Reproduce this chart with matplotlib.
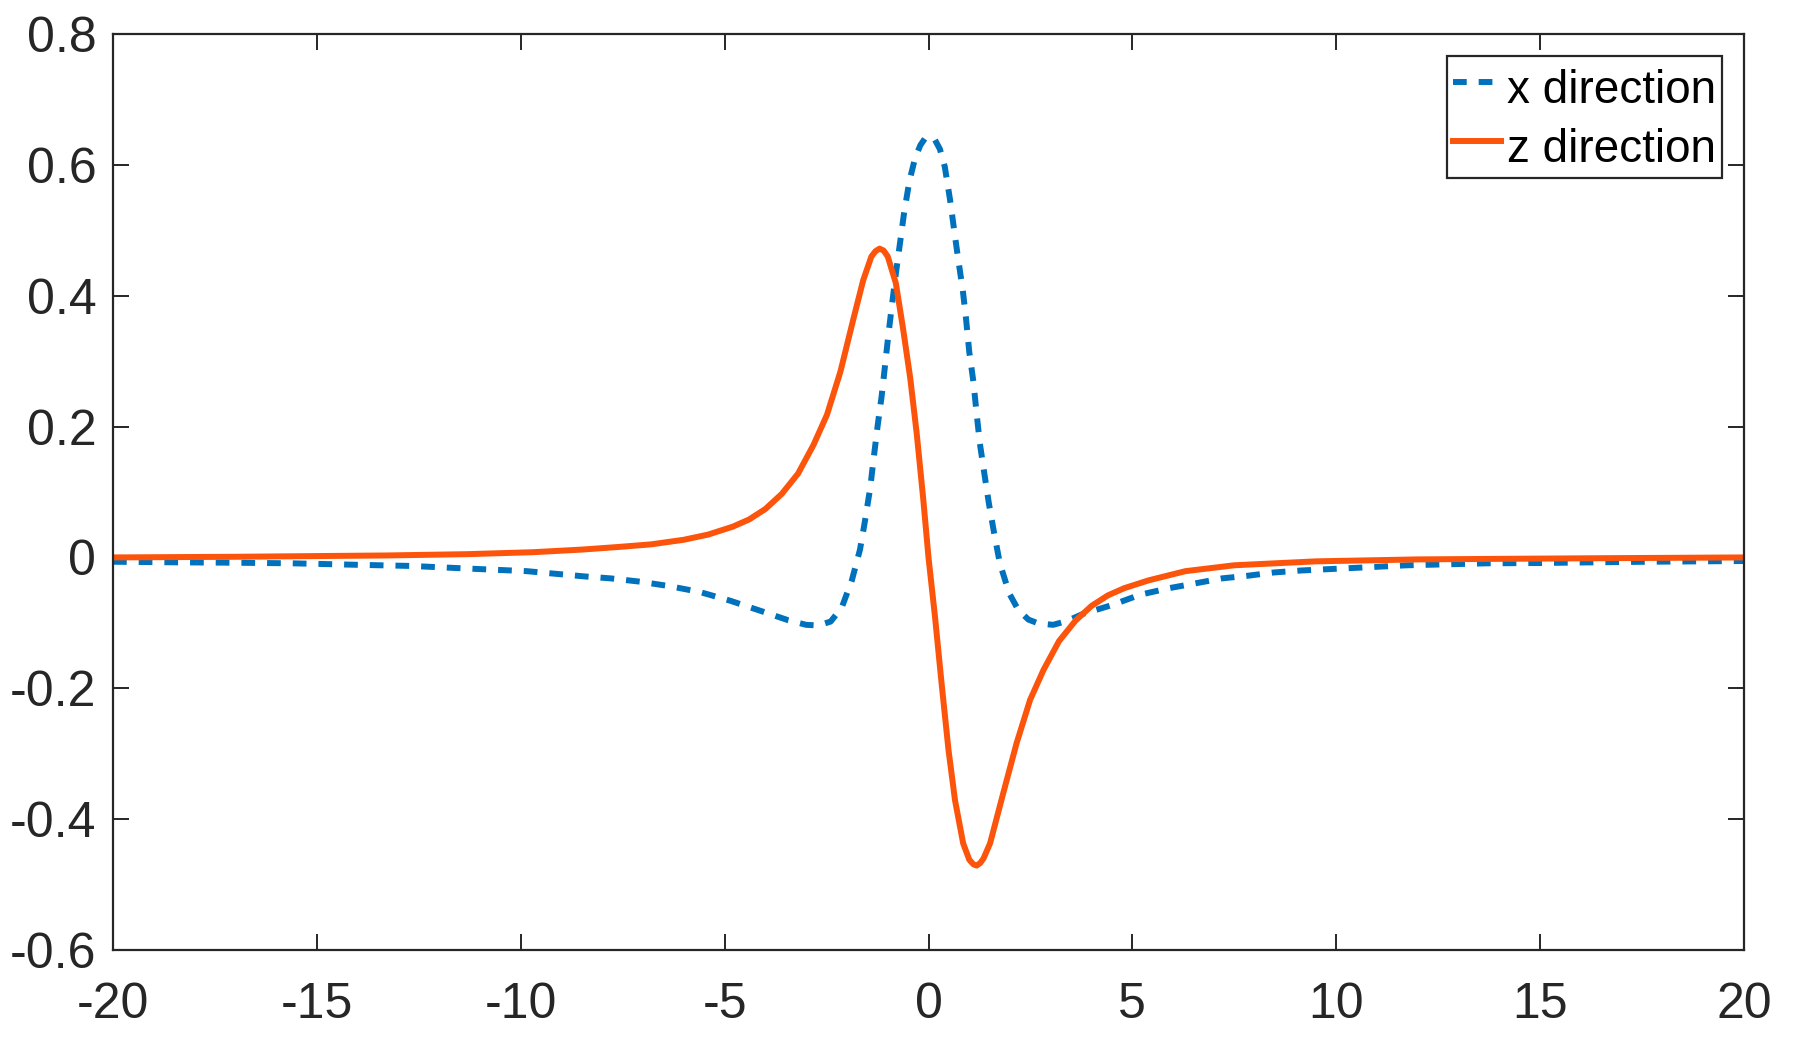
import matplotlib
matplotlib.use("Agg")
import matplotlib.pyplot as plt

plt.rcParams['font.family'] = ['Liberation Sans', 'DejaVu Sans']
plt.rcParams['axes.unicode_minus'] = False

# ---- data ----
x_dir_pos = [-20, -18.4, -17, -15.6, -14.2, -12.7, -11.3, -9.85, -8.44, -7.8, -7.08, -6.34,
             -5.6, -4.87, -4.15, -3.44, -3.0, -2.7, -2.4, -2.13, -1.88, -1.68, -1.56, -1.43,
             -1.34, -1.25, -1.15, -1.07, -0.99, -0.90, -0.80, -0.70, -0.60, -0.47, -0.33,
             -0.2, -0.08, 0.04, 0.16, 0.28, 0.40, 0.53, 0.63, 0.73, 0.84, 0.92, 1.00, 1.10,
             1.18, 1.26, 1.37, 1.48, 1.61, 1.75, 1.98, 2.2, 2.45, 2.7, 3.06, 3.4, 3.80, 4.49,
             5.19, 5.90, 6.6, 7.2, 7.83, 8.47, 9.13, 9.78, 10.44, 11.09, 11.74, 12.40, 13.05,
             13.71, 15.0, 16.3, 17.6, 20]
x_dir_val = [-0.0066, -0.0075, -0.0081, -0.009, -0.011, -0.013, -0.017, -0.021, -0.029,
             -0.032, -0.037, -0.044, -0.053, -0.066, -0.081, -0.096, -0.103, -0.104, -0.098,
             -0.077, -0.035, 0.012, 0.055, 0.106, 0.154, 0.200, 0.246, 0.291, 0.337, 0.384,
             0.434, 0.480, 0.526, 0.575, 0.610, 0.630, 0.641, 0.643, 0.638, 0.624, 0.597,
             0.546, 0.500, 0.455, 0.409, 0.365, 0.314, 0.269, 0.220, 0.174, 0.128, 0.083,
             0.037, -0.009, -0.055, -0.080, -0.095, -0.101, -0.103, -0.097, -0.086, -0.073,
             -0.057, -0.047, -0.039, -0.032, -0.028, -0.023, -0.020, -0.018, -0.016, -0.014,
             -0.012, -0.011, -0.010, -0.009, -0.0085, -0.0075, -0.0066, -0.0055]

z_dir_pos = [-20, -17, -13.3, -11.3, -9.7, -8.5, -7.6, -6.8, -6.0, -5.4, -4.8, -4.4, -4.0,
             -3.6, -3.2, -2.82, -2.49, -2.16, -1.84, -1.6, -1.4, -1.3, -1.2, -1.1, -1.0,
             -0.8, -0.62, -0.45, -0.29, -0.13, 0.0, 0.16, 0.32, 0.49, 0.65, 0.85, 1.0, 1.1,
             1.18, 1.27, 1.35, 1.51, 1.83, 2.16, 2.49, 2.82, 3.2, 3.6, 4.0, 4.4, 4.8, 5.4,
             6.3, 7.5, 9.5, 12, 14.4, 17, 20]
z_dir_val = [0.000, 0.001, 0.003, 0.005, 0.008, 0.012, 0.016, 0.020, 0.027, 0.035, 0.047,
             0.058, 0.074, 0.097, 0.128, 0.172, 0.218, 0.284, 0.365, 0.424, 0.460, 0.468,
             0.472, 0.469, 0.460, 0.419, 0.348, 0.275, 0.190, 0.090, 0.0, -0.091, -0.192,
             -0.294, -0.371, -0.437, -0.462, -0.469, -0.471, -0.467, -0.460, -0.437, -0.361,
             -0.284, -0.218, -0.172, -0.128, -0.097, -0.074, -0.058, -0.047, -0.035, -0.021,
             -0.012, -0.006, -0.003, -0.002, -0.001, 0.000]

labels = ['x direction', 'z direction']
xticks = [-20, -15, -10, -5, 0, 5, 10, 15, 20]
yticks = [-0.6, -0.4, -0.2, 0, 0.2, 0.4, 0.6, 0.8]
ytick_labels = ['-0.6', '-0.4', '-0.2', '0', '0.2', '0.4', '0.6', '0.8']

BLUE = '#0072BD'
ORANGE = '#FC540A'
DARK = '#262626'

fig = plt.figure(figsize=(17.97, 10.46), dpi=100)
ax = fig.add_axes([113 / 1797, 1 - 950 / 1046, (1744 - 113) / 1797, (950 - 34) / 1046])

ax.plot(x_dir_pos, x_dir_val, color=BLUE, lw=4.3, dashes=(2.3, 2.0), label=labels[0])
ax.plot(z_dir_pos, z_dir_val, color=ORANGE, lw=4.3, label=labels[1])

ax.set_xlim(-20, 20)
ax.set_ylim(-0.6, 0.8)
ax.set_xticks(xticks)
ax.set_xticklabels([str(t) for t in xticks])
ax.set_yticks(yticks)
ax.set_yticklabels(ytick_labels)

for s in ax.spines.values():
    s.set_linewidth(1.6)
    s.set_color(DARK)
ax.tick_params(direction='in', length=11.5, width=1.4, color=DARK, labelcolor=DARK,
               labelsize=36, top=True, right=True)
ax.tick_params(axis='x', pad=23)
ax.tick_params(axis='y', pad=12)

leg = ax.legend(loc='upper right', bbox_to_anchor=((1722 - 113) / 1631, 1 - (56 - 34) / 916),
                borderaxespad=0, fontsize=33, handlelength=1.05, handletextpad=0.13,
                handleheight=1.33, borderpad=0.13, labelspacing=0.18, fancybox=False,
                framealpha=1, edgecolor=DARK)
leg.get_frame().set_linewidth(1.6)
for t in leg.get_texts():
    t.set_color('black')

fig.savefig('out.png', dpi=100)
